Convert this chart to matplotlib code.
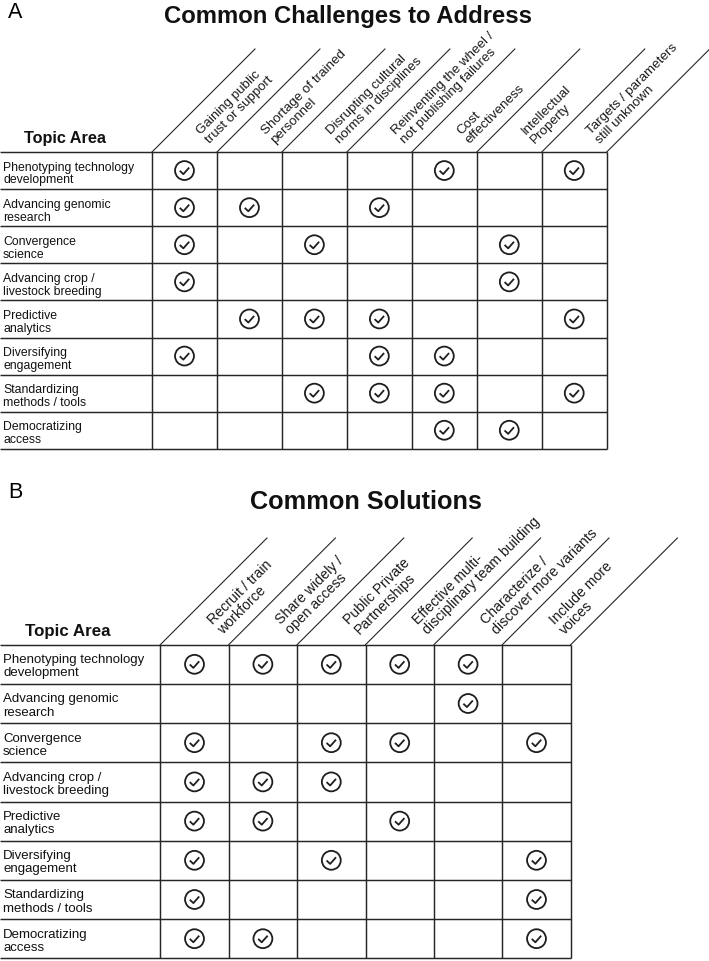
import matplotlib
matplotlib.use("Agg")
import matplotlib.pyplot as plt
from matplotlib.path import Path

# ---------------- data ----------------
topics = [
    "Phenotyping technology\ndevelopment",
    "Advancing genomic\nresearch",
    "Convergence\nscience",
    "Advancing crop /\nlivestock breeding",
    "Predictive\nanalytics",
    "Diversifying\nengagement",
    "Standardizing\nmethods / tools",
    "Democratizing\naccess",
]

challenges = [
    "Gaining public\ntrust or support",
    "Shortage of trained\npersonnel",
    "Disrupting cultural\nnorms in disciplines",
    "Reinventing the wheel /\nnot publishing failures",
    "Cost\neffectiveness",
    "Intellectual\nProperty",
    "Targets / parameters\nstill unknown",
]

solutions = [
    "Recruit / train\nworkforce",
    "Share widely /\nopen access",
    "Public Private\nPartnerships",
    "Effective multi-\ndisciplinary team building",
    "Characterize /\ndiscover more variants",
    "Include more\nvoices",
]

# column indices checked for each topic (row)
challenge_checks = [
    [0, 4, 6],
    [0, 1, 3],
    [0, 2, 5],
    [0, 5],
    [1, 2, 3, 6],
    [0, 3, 4],
    [2, 3, 4, 6],
    [4, 5],
]

solution_checks = [
    [0, 1, 2, 3, 4],
    [4],
    [0, 2, 3, 5],
    [0, 1, 2],
    [0, 1, 3],
    [0, 2, 5],
    [0, 5],
    [0, 1, 5],
]

title_a = "Common Challenges to Address"
title_b = "Common Solutions"
header_label = "Topic Area"

# ---------------- figure ----------------
W, H = 709, 962
fig = plt.figure(figsize=(W / 100, H / 100), dpi=100)
ax = fig.add_axes([0, 0, 1, 1])
ax.set_xlim(0, W)
ax.set_ylim(H, 0)
ax.axis("off")

FONT = "Liberation Sans"
LC = "#262626"
LW = 1.05

circle = Path.unit_circle()
tick = Path([(-0.5, -0.02), (-0.12, -0.38), (0.5, 0.32)],
            [Path.MOVETO, Path.LINETO, Path.LINETO])
check_marker = Path.make_compound_path(circle, tick)


def draw_table(top, x0, colw, rowh, diag, headers, checks,
               hdr_fs, hdr_ls, hdr_perp, hdr_along, lbl_fs, lbl_ls, lbl_dy):
    ncol = len(headers)
    nrow = len(topics)
    right = x0 + ncol * colw
    bottom = top + nrow * rowh
    for r in range(nrow + 1):
        y = top + r * rowh
        ax.plot([0, right], [y, y], color=LC, lw=LW, solid_capstyle="butt")
    for c in range(ncol + 1):
        xc = x0 + c * colw
        ax.plot([xc, xc], [top, bottom], color=LC, lw=LW, solid_capstyle="butt")
        ax.plot([xc, xc + diag], [top, top - diag], color=LC, lw=0.8)
    for c, h in enumerate(headers):
        xm = x0 + (c + 0.5) * colw
        u = xm + top + hdr_perp
        v = xm - top + hdr_along
        ax.text((u + v) / 2, (u - v) / 2, h, rotation=45, rotation_mode="anchor",
                ha="left", va="center", fontsize=hdr_fs, linespacing=hdr_ls,
                family=FONT, color="#1a1a1a")
    for r, t in enumerate(topics):
        ax.text(3, top + (r + 0.5) * rowh + lbl_dy, t, ha="left", va="center",
                fontsize=lbl_fs, linespacing=lbl_ls, family=FONT, color="#111111")
    xs, ys = [], []
    for r, cols in enumerate(checks):
        for c in cols:
            xs.append(x0 + (c + 0.5) * colw)
            ys.append(top + (r + 0.5) * rowh)
    ax.scatter(xs, ys, s=185, marker=check_marker, facecolors="none",
               edgecolors="#1e1e1e", linewidths=1.3, zorder=3)


# Panel A
ax.text(8, 18.5, "A", fontsize=15.5, family=FONT, ha="left", va="baseline")
ax.text(347.5, 23.5, title_a, fontsize=17.2, fontweight="bold", family=FONT,
        ha="center", va="baseline", color="#111111")
ax.text(24, 142.7, header_label, fontsize=11.7, fontweight="bold", family=FONT,
        ha="left", va="baseline", color="#111111")
draw_table(top=153, x0=152, colw=64.96, rowh=37.1, diag=103,
           headers=challenges, checks=challenge_checks,
           hdr_fs=9.6, hdr_ls=1.05, hdr_perp=3, hdr_along=35,
           lbl_fs=8.8, lbl_ls=1.08, lbl_dy=2.5)

# Panel B
ax.text(8, 498.5, "B", fontsize=15.5, family=FONT, ha="left", va="baseline")
ax.text(366, 509.5, title_b, fontsize=18.2, fontweight="bold", family=FONT,
        ha="center", va="baseline", color="#111111")
ax.text(25, 636, header_label, fontsize=12.2, fontweight="bold", family=FONT,
        ha="left", va="baseline", color="#111111")
draw_table(top=645.7, x0=160.3, colw=68.4, rowh=39.2, diag=106.7,
           headers=solutions, checks=solution_checks,
           hdr_fs=10.2, hdr_ls=1.05, hdr_perp=2, hdr_along=39,
           lbl_fs=9.5, lbl_ls=1.12, lbl_dy=1.5)

fig.savefig("out.png", dpi=100)
